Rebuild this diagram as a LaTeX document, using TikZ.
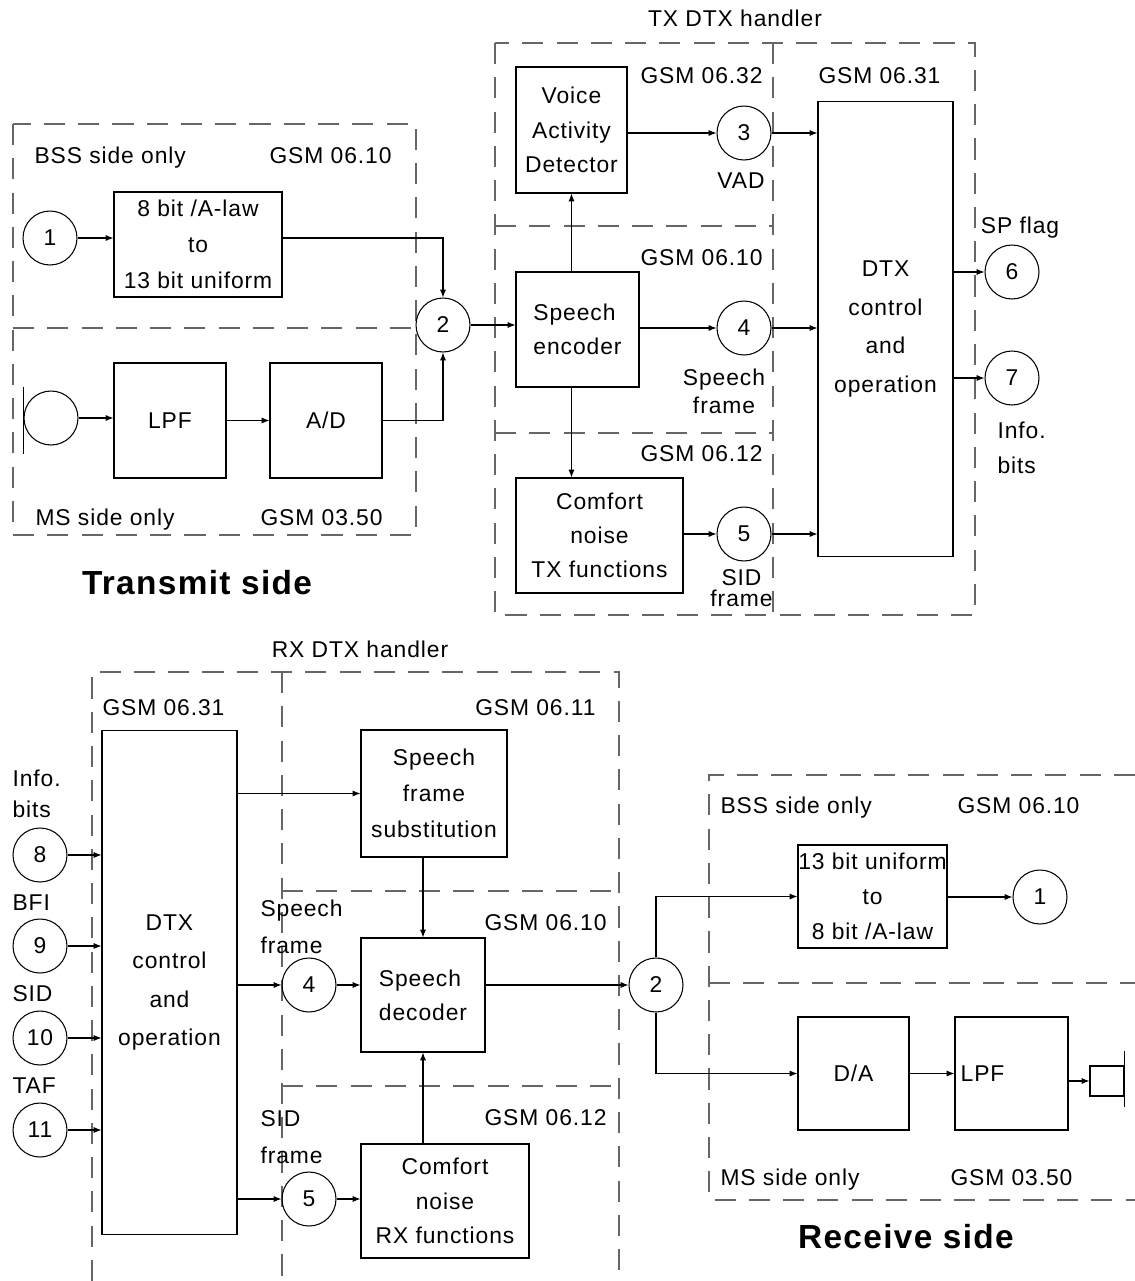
\documentclass[tikz,border=0pt]{standalone}
\usepackage{fontspec}
\setmainfont{Liberation Sans}[LetterSpace=4]
\usetikzlibrary{arrows.meta}
\tikzset{
    every node/.append style={font=\fontsize{13}{19.5}\selectfont}}

\begin{document}
\begin{tikzpicture}
  [x=0.02cm,y=-0.02cm,>={Latex[length=4.5pt,width=3.5pt]},line width=0.6pt,
  blk/.style={draw,rectangle,inner sep=0pt,align=center},
  circ/.style={draw,circle,minimum size=1.08cm,inner sep=0pt},
  grp/.style={black!60,dash pattern=on 12pt off 7.5pt},
  lbl/.style={inner sep=0pt,text height=9.3pt,text depth=0pt},
  mlbl/.style={inner sep=0pt},
  sidettl/.style={inner sep=0pt,text height=13.6pt,text depth=0pt,
    font=\fontsize{19}{23}\selectfont\bfseries}
  ]
  \useasboundingbox (0,0) rectangle (1135,1281);

  % transmit side: input blocks
  \draw[grp] (13,124) rectangle (416,535);
  \draw[grp] (13,328) -- (416,328);
  \node[lbl,anchor=west] (bsst) at (34,155) {BSS side only};
  \node[lbl,anchor=east] (gbsst) at (392,155) {GSM 06.10};
  \node[lbl,anchor=west] (mst) at (35,517) {MS side only};
  \node[lbl,anchor=east] (gmst) at (383,517) {GSM 03.50};
  \node[circ] (t1) at (50,238) {1};
  \node[blk,minimum width=3.36cm,minimum height=2.1cm,
    font=\fontsize{13}{20.5}\selectfont] (a2u) at (198,244.5) {8 bit /A-law\\to\\13 bit uniform};
  \node[circ] (mic) at (51,418) {};
  \draw (mic.west) ++(0,-31) -- ++(0,67);
  \node[blk,minimum width=2.24cm,minimum height=2.3cm] (lpft) at (170,420.5) {LPF};
  \node[blk,minimum width=2.24cm,minimum height=2.3cm] (adc) at (326,420.5) {A/D};
  \node[circ] (t2) at (443,325) {2};
  \node[sidettl] (txside) at (197,583) {Transmit side};

  % TX DTX handler
  \draw[grp] (495,43) rectangle (975,615);
  \draw[grp] (773,43) -- (773,615);
  \draw[grp] (495,226) -- (773,226);
  \draw[grp] (495,433) -- (773,433);
  \node[lbl] (txh) at (735,18) {TX DTX handler};
  \node[lbl,anchor=east] (g32) at (763,75) {GSM 06.32};
  \node[lbl,anchor=west] (g31t) at (818,75) {GSM 06.31};
  \node[lbl,anchor=east] (g10t) at (763,257) {GSM 06.10};
  \node[lbl,anchor=east] (g12t) at (763,453) {GSM 06.12};
  \node[blk,minimum width=2.22cm,minimum height=2.52cm] (vad) at (571.5,130) {Voice\\Activity\\Detector};
  \node[blk,minimum width=2.46cm,minimum height=2.3cm,align=left] (enc) at (577.5,329.5) {Speech\\encoder};
  \node[blk,minimum width=3.34cm,minimum height=2.3cm] (cnt) at (599.5,535.5) {Comfort\\noise\\TX functions};
  \node[blk,minimum width=2.7cm,minimum height=9.12cm,
    font=\fontsize{13}{22}\selectfont] (dtxt) at (885.5,329) {DTX\\control\\and\\operation};
  \node[circ] (t3) at (744,133) {3};
  \node[circ] (t4) at (744,328) {4};
  \node[circ] (t5) at (744,534) {5};
  \node[circ] (t6) at (1012,272) {6};
  \node[circ] (t7) at (1012,378) {7};
  \node[lbl] (vadl) at (741,180) {VAD};
  \node[mlbl,align=center,font=\fontsize{13}{16}\selectfont] (sfl) at (724,391) {Speech\\frame};
  \node[mlbl,align=center,font=\fontsize{13}{12}\selectfont] (sidl) at (741.5,588) {SID\\frame};
  \node[lbl] (spl) at (1020,225) {SP flag};
  \node[mlbl,align=left,anchor=west,font=\fontsize{13}{19.8}\selectfont] (infl) at (997,447.5) {Info.\\bits};

  \draw[->] (t1) -- (a2u.west |- t1);
  \draw[->] (a2u.east |- t1) -| (t2);
  \draw[->] (mic) -- (lpft.west |- mic);
  \draw[->] (lpft) -- (adc);
  \draw[->] (adc) -| (t2);
  \draw[->] (t2) -- (enc.west |- t2);
  \draw[->] (enc.north -| vad.south) -- (vad.south);
  \draw[->] (enc.south -| vad.south) -- (cnt.north -| vad.south);
  \draw[->] (vad.east |- t3) -- (t3);
  \draw[->] (enc.east |- t4) -- (t4);
  \draw[->] (cnt.east |- t5) -- (t5);
  \foreach \c in {t3,t4,t5}
    \draw[->] (\c) -- (dtxt.west |- \c);
  \foreach \c in {t6,t7}
    \draw[->] (dtxt.east |- \c) -- (\c);

  % RX DTX handler
  \draw[grp] (92,1281) -- (92,672) -- (619,672) -- (619,1281);
  \draw[grp] (282,672) -- (282,1281);
  \draw[grp] (282,891) -- (619,891);
  \draw[grp] (282,1086) -- (619,1086);
  \node[lbl] (rxh) at (360,649) {RX DTX handler};
  \node[lbl,anchor=west] (g31r) at (102,707) {GSM 06.31};
  \node[lbl,anchor=east] (g11r) at (596,707) {GSM 06.11};
  \node[lbl,anchor=east] (g10r) at (607,922) {GSM 06.10};
  \node[lbl,anchor=east] (g12r) at (607,1117) {GSM 06.12};
  \node[blk,minimum width=2.7cm,minimum height=10.1cm,
    font=\fontsize{13}{22}\selectfont] (dtxr) at (169.5,982.5) {DTX\\control\\and\\operation};
  \node[blk,minimum width=2.92cm,minimum height=2.54cm,
    font=\fontsize{13}{20.5}\selectfont] (sfs) at (434,793.5) {Speech\\frame\\substitution};
  \node[blk,minimum width=2.48cm,minimum height=2.28cm,align=left] (dec) at (423,995) {Speech\\decoder};
  \node[blk,minimum width=3.36cm,minimum height=2.28cm] (cnr) at (445,1201) {Comfort\\noise\\RX functions};
  \node[circ] (r8) at (40,855) {8};
  \node[circ] (r9) at (40,946) {9};
  \node[circ] (r10) at (40,1038) {10};
  \node[circ] (r11) at (40,1130) {11};
  \node[circ] (r4) at (309,985) {4};
  \node[circ] (r5) at (309,1199) {5};
  \node[mlbl,align=left,anchor=west,font=\fontsize{13}{18}\selectfont] (infr) at (12,794) {Info.\\bits};
  \node[lbl,anchor=west] (bfil) at (12,902) {BFI};
  \node[lbl,anchor=west] (sidr) at (12,993) {SID};
  \node[lbl,anchor=west] (tafl) at (12,1085) {TAF};
  \node[mlbl,align=left,anchor=west,font=\fontsize{13}{21}\selectfont] (sfr) at (260,926.5) {Speech\\frame};
  \node[mlbl,align=left,anchor=west,font=\fontsize{13}{21}\selectfont] (sdr) at (260,1137.5) {SID\\frame};

  \foreach \c in {r8,r9,r10,r11}
    \draw[->] (\c) -- (dtxr.west |- \c);
  \draw[->] (dtxr.east |- sfs.west) -- (sfs.west);
  \draw[->] (dtxr.east |- r4) -- (r4);
  \draw[->] (dtxr.east |- r5) -- (r5);
  \draw[->] (r4) -- (dec.west |- r4);
  \draw[->] (r5) -- (cnr.west |- r5);
  \draw[->] (sfs.south -| dec.north) -- (dec.north);
  \draw[->] (cnr.north -| dec.south) -- (dec.south);

  % receive side: output blocks
  \draw[grp] (1135,775) -- (709,775) -- (709,1200) -- (1135,1200);
  \draw[grp] (709,983) -- (1135,983);
  \node[lbl,anchor=west] (bssr) at (720,805) {BSS side only};
  \node[lbl,anchor=west] (gbssr) at (957,805) {GSM 06.10};
  \node[lbl,anchor=west] (msr) at (720,1177) {MS side only};
  \node[lbl,anchor=west] (gmsr) at (950,1177) {GSM 03.50};
  \node[circ] (r2) at (656,985) {2};
  \node[blk,minimum width=2.98cm,minimum height=2.06cm,
    font=\fontsize{13}{20}\selectfont] (u2a) at (872.5,896.5) {13 bit uniform\\to\\8 bit /A-law};
  \node[circ] (r1) at (1040,897) {1};
  \node[blk,minimum width=2.22cm,minimum height=2.26cm] (dac) at (853.5,1073.5) {D/A};
  \node[blk,minimum width=2.26cm,minimum height=2.26cm] (lpfr) at (1011.5,1073.5) {LPF\hspace*{1.16cm}};
  \node[blk,minimum width=0.68cm,minimum height=0.6cm] (spk) at (1107,1081) {};
  \draw (spk.north east) ++(0,-14) -- ++(0,56);
  \node[sidettl] (rxside) at (906,1237) {Receive side};

  \draw[->] (dec.east |- r2) -- (r2);
  \draw[->] (r2) |- (u2a.west);
  \draw[->] (r2) |- (dac.west);
  \draw[->] (u2a.east |- r1) -- (r1);
  \draw[->] (dac) -- (lpfr);
  \draw[->] (lpfr.east |- spk) -- (spk);
\end{tikzpicture}
\end{document}
